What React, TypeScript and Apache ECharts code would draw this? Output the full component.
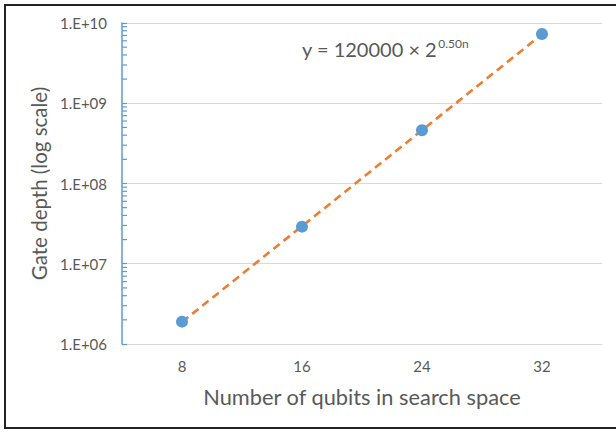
import React, { useEffect, useRef } from "react";
import * as echarts from "echarts";

const categories = ["8", "16", "24", "32"];
const gateDepth = [1.9e6, 2.9e7, 4.6e8, 7.3e9];
const trendValues = [1.88e6, 2.94e7, 4.61e8, 7.23e9];
const minorTickValues = [
  2e6, 3e6, 4e6, 5e6, 6e6, 7e6, 8e6, 9e6,
  2e7, 3e7, 4e7, 5e7, 6e7, 7e7, 8e7, 9e7,
  2e8, 3e8, 4e8, 5e8, 6e8, 7e8, 8e8, 9e8,
  2e9, 3e9, 4e9, 5e9, 6e9, 7e9, 8e9, 9e9,
];
const xAxisTitle = "Number of qubits in search space";
const yAxisTitle = "Gate depth (log scale)";

const FONT = "Lato, 'Open Sans', sans-serif";
const GREY_TEXT = "#595959";
const BLUE = "#5B9BD5";
const ORANGE = "#ED7D31";

export default function App() {
  const ref = useRef<HTMLDivElement>(null);
  useEffect(() => {
    if (!ref.current) return;
    const chart = echarts.init(ref.current, null, { renderer: "svg" });
    chart.setOption({
      animation: false,
      backgroundColor: "#ffffff",
      grid: { left: 122, right: 14, top: 23, bottom: 88 },
      xAxis: {
        type: "category",
        data: categories,
        boundaryGap: true,
        axisLine: { show: true, lineStyle: { color: "#D9D9D9", width: 1 } },
        axisTick: { show: false },
        axisLabel: { color: GREY_TEXT, fontSize: 15, fontFamily: FONT, margin: 14 },
        name: xAxisTitle,
        nameLocation: "middle",
        nameGap: 41,
        nameTextStyle: { color: GREY_TEXT, fontSize: 21.8, fontFamily: FONT },
      },
      yAxis: {
        type: "log",
        logBase: 10,
        min: 1e6,
        max: 1e10,
        axisLine: { show: true, lineStyle: { color: BLUE, width: 1.5 } },
        axisTick: { show: true, inside: true, length: 5, lineStyle: { color: BLUE, width: 1.2 } },
        splitLine: { show: true, lineStyle: { color: "#D9D9D9", width: 1 } },
        axisLabel: {
          color: GREY_TEXT,
          fontSize: 15,
          fontFamily: FONT,
          margin: 15,
          formatter: (v: number) => {
            const e = Math.round(Math.log10(v));
            return "1.E+" + (e < 10 ? "0" + e : String(e));
          },
        },
        name: yAxisTitle,
        nameLocation: "middle",
        nameGap: 72,
        nameRotate: 90,
        nameTextStyle: { color: GREY_TEXT, fontSize: 20.5, fontFamily: FONT },
      },
      graphic: [
        {
          type: "rect",
          shape: { x: 5, y: 5, width: 640, height: 423 },
          style: { fill: "none", stroke: "#222222", lineWidth: 2 },
          silent: true,
        },
        {
          type: "text",
          x: 302,
          y: 37,
          style: {
            text: "{a|y = 120000 × 2}{s|0.50n}",
            rich: {
              a: { fontSize: 20, fontFamily: FONT, fill: GREY_TEXT, verticalAlign: "bottom" },
              s: { fontSize: 12, fontFamily: FONT, fill: GREY_TEXT, verticalAlign: "bottom", padding: [0, 0, 10, 1] },
            },
          },
        },
      ],
      series: [
        {
          type: "custom",
          silent: true,
          clip: false,
          z: 6,
          data: minorTickValues.map((v) => [0, v]),
          renderItem: (params: any, api: any) => {
            const p = api.coord([0, api.value(1)]);
            const x0 = params.coordSys.x;
            return {
              type: "line",
              shape: { x1: x0, y1: p[1], x2: x0 + 5, y2: p[1] },
              style: { stroke: BLUE, lineWidth: 1.2 },
            };
          },
        },
        {
          type: "line",
          data: trendValues,
          symbol: "none",
          lineStyle: { color: ORANGE, width: 2.6, type: [8, 5] },
          z: 4,
        },
        {
          type: "scatter",
          data: gateDepth,
          symbol: "circle",
          symbolSize: 12,
          itemStyle: { color: BLUE, opacity: 1 },
          z: 5,
        },
      ],
    });
    return () => chart.dispose();
  }, []);
  return (
    <div
      ref={ref}
      style={{ position: "fixed", left: 0, top: 0, width: 616, height: 432 }}
    />
  );
}
